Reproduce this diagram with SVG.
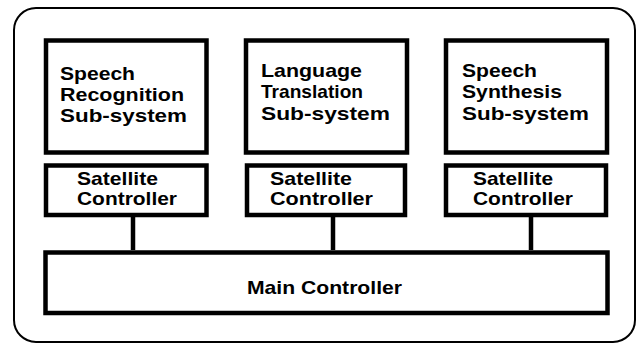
<svg xmlns="http://www.w3.org/2000/svg" width="638" height="346" viewBox="0 0 638 346">
<style>
.box{fill:#fff;stroke:#000;stroke-width:4.5}
.t{font-family:"Liberation Sans",Arial,sans-serif;font-weight:bold;font-size:18.5px;fill:#000}
.s{font-family:"Liberation Sans",Arial,sans-serif;font-weight:bold;font-size:19px;fill:#000}
.c{stroke:#000;stroke-width:4.5;fill:none}
</style>
<rect x="14" y="8" width="621" height="334" rx="22" ry="22" fill="#fff" stroke="#000" stroke-width="2"/>
<g id="speech-recognition">
<rect class="box" x="46" y="40.5" width="160.5" height="112"/>
<text class="t" x="60" y="80" textLength="75" lengthAdjust="spacingAndGlyphs">Speech</text>
<text class="t" x="60" y="101" textLength="124" lengthAdjust="spacingAndGlyphs">Recognition</text>
<text class="t" x="60" y="122" textLength="127" lengthAdjust="spacingAndGlyphs">Sub-system</text>
</g>
<g id="language-translation">
<rect class="box" x="246" y="40.5" width="161" height="112"/>
<text class="t" x="261" y="77" textLength="101" lengthAdjust="spacingAndGlyphs">Language</text>
<text class="t" x="261" y="98" textLength="102" lengthAdjust="spacingAndGlyphs">Translation</text>
<text class="t" x="261" y="120" textLength="129" lengthAdjust="spacingAndGlyphs">Sub-system</text>
</g>
<g id="speech-synthesis">
<rect class="box" x="446" y="40.5" width="161" height="112"/>
<text class="t" x="462" y="77" textLength="75" lengthAdjust="spacingAndGlyphs">Speech</text>
<text class="t" x="462" y="98" textLength="100" lengthAdjust="spacingAndGlyphs">Synthesis</text>
<text class="t" x="462" y="120" textLength="127" lengthAdjust="spacingAndGlyphs">Sub-system</text>
</g>
<g id="satellite-1">
<rect class="box" x="46" y="165.5" width="160.5" height="49.5"/>
<text class="s" x="77" y="185" textLength="81" lengthAdjust="spacingAndGlyphs">Satellite</text>
<text class="s" x="77" y="205" textLength="100" lengthAdjust="spacingAndGlyphs">Controller</text>
</g>
<g id="satellite-2">
<rect class="box" x="247" y="165.5" width="158" height="49.5"/>
<text class="s" x="270" y="185" textLength="82" lengthAdjust="spacingAndGlyphs">Satellite</text>
<text class="s" x="270" y="205" textLength="103" lengthAdjust="spacingAndGlyphs">Controller</text>
</g>
<g id="satellite-3">
<rect class="box" x="446" y="165.5" width="160" height="49.5"/>
<text class="s" x="473" y="185" textLength="80" lengthAdjust="spacingAndGlyphs">Satellite</text>
<text class="s" x="473" y="205" textLength="100" lengthAdjust="spacingAndGlyphs">Controller</text>
</g>
<g id="main-controller">
<rect class="box" x="45.5" y="252.5" width="562" height="60.5"/>
<text class="s" x="247" y="294" textLength="155" lengthAdjust="spacingAndGlyphs">Main Controller</text>
</g>
<g id="connectors">
<line class="c" x1="133" y1="217" x2="133" y2="250"/>
<line class="c" x1="333" y1="217" x2="333" y2="250"/>
<line class="c" x1="531" y1="217" x2="531" y2="250"/>
</g>
</svg>
